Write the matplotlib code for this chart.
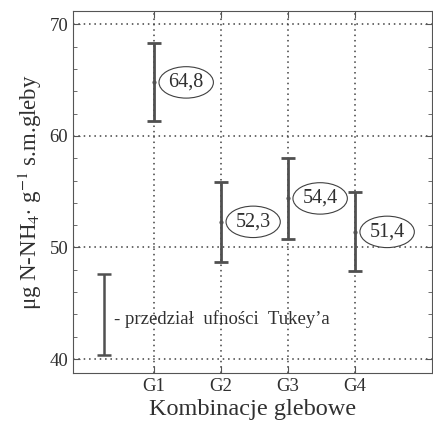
import matplotlib
matplotlib.use('Agg')
import matplotlib.pyplot as plt
from matplotlib.ticker import MultipleLocator

# Dane
groups = ['G1', 'G2', 'G3', 'G4']
means = [64.8, 52.3, 54.4, 51.4]
lower = [61.3, 48.7, 50.8, 47.9]
upper = [68.3, 55.9, 58.0, 55.0]
mean_labels = ['64,8', '52,3', '54,4', '51,4']
legend_low, legend_high = 40.4, 47.6
legend_text = "- przedział  ufności  Tukey\u2019a"

plt.rcParams['font.family'] = ['Liberation Serif', 'DejaVu Serif']
plt.rcParams['mathtext.fontset'] = 'stix'

bar_color = '#505050'
txt_color = '#303030'
fig = plt.figure(figsize=(4.33, 4.24), dpi=100)
ax = fig.add_axes([73 / 433, 1 - 373 / 424, (432 - 73) / 433, (373 - 11) / 424])

x = list(range(1, len(groups) + 1))
err_lo = [m - l for m, l in zip(means, lower)]
err_hi = [u - m for m, u in zip(means, upper)]
ax.errorbar(x, means, yerr=[err_lo, err_hi], fmt='o', markersize=2,
            color=bar_color, ecolor=bar_color, elinewidth=2, capsize=5,
            capthick=2, zorder=3)

for xi, m, lab in zip(x, means, mean_labels):
    ax.text(xi + 0.48, m, lab, fontsize=14.5, ha='center', va='center',
            color=txt_color,
            bbox=dict(boxstyle='ellipse,pad=0.08', fc='white', ec='#404040', lw=0.8))

# legenda - przedzial ufnosci
half = (legend_high - legend_low) / 2
ax.errorbar([0.25], [legend_low + half], yerr=[[half], [half]],
            fmt='none', ecolor=bar_color, elinewidth=1.8, capsize=5, capthick=1.8)
ax.text(0.4, 43.6, legend_text, fontsize=13.5, va='center', ha='left', color=txt_color)

ax.set_xlim(-0.21, 5.15)
ax.set_ylim(38.75, 71.2)
ax.set_xticks(x)
ax.set_xticklabels(groups, fontsize=13.5, color=txt_color)
ax.set_yticks([40, 50, 60, 70])
ax.tick_params(axis='y', labelsize=13.5, labelcolor=txt_color)
ax.yaxis.set_minor_locator(MultipleLocator(2))
ax.tick_params(which='both', direction='in', top=True, right=True, color='#555555')
ax.tick_params(which='major', length=5)
ax.tick_params(which='minor', length=3)
ax.grid(True, linestyle=(0, (1, 2.5)), color='#404040', linewidth=1.1)
for s in ax.spines.values():
    s.set_color('#555555')

ax.set_xlabel('Kombinacje glebowe', fontsize=17.5, color=txt_color, labelpad=3)
ax.set_ylabel('\u03bcg N-NH$_4\u00b7$ g$^{-1}$ s.m.gleby', fontsize=16.5,
              color=txt_color, labelpad=4)

fig.savefig('out.png', dpi=100)
